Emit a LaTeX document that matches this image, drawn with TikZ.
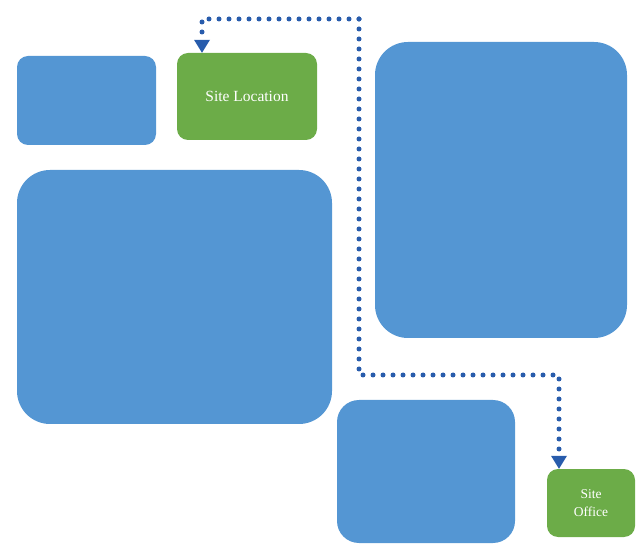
\documentclass[tikz,border=0pt]{standalone}
\usepackage{fontspec}
\setmainfont{Liberation Serif}
\usetikzlibrary{arrows.meta}
\definecolor{boxblue}{RGB}{84,150,211}
\definecolor{boxgreen}{RGB}{108,172,72}
\definecolor{linkblue}{RGB}{40,92,172}
\tikzset{
  bluebox/.style={fill=boxblue, draw=none, rectangle, inner sep=0pt},
  greenbox/.style={fill=boxgreen, draw=none, rectangle, inner sep=0pt, text=white, align=center},
  dotlink/.style={draw=linkblue, line width=5pt, line cap=round,
    dash pattern=on 0pt off 10pt,
    -{Triangle[width=16pt,length=13pt,fill=linkblue,line width=0pt]}}
}
\begin{document}
\begin{tikzpicture}[x=1pt,y=-1pt]
\useasboundingbox (0,0) rectangle (643,545);
\node[bluebox, rounded corners=11pt, minimum width=139pt, minimum height=89pt] (sb) at (86.5,100.5) {};
\node[greenbox, rounded corners=11pt, minimum width=140pt, minimum height=87pt, font=\fontsize{15.5}{18}\selectfont] (loc) at (247,96.5) {Site Location};
\node[bluebox, rounded corners=33pt, minimum width=315pt, minimum height=254pt] (bl) at (174.5,297) {};
\node[bluebox, rounded corners=33pt, minimum width=252pt, minimum height=296pt] (br) at (501,190) {};
\node[bluebox, rounded corners=22pt, minimum width=178pt, minimum height=143pt] (bb) at (426,471.5) {};
\node[greenbox, rounded corners=11pt, minimum width=88pt, minimum height=68pt, font=\fontsize{13.5}{18.5}\selectfont] (off) at (591,503) {Site\\Office};
\coordinate (c1) at (359,19);
\coordinate (c2) at (359,375);
\draw[dotlink] (c1) -| ([xshift=-45pt]loc.north);
\draw[dotlink] (c1) -- (c2) -| ([xshift=-32pt]off.north);
\end{tikzpicture}
\end{document}
